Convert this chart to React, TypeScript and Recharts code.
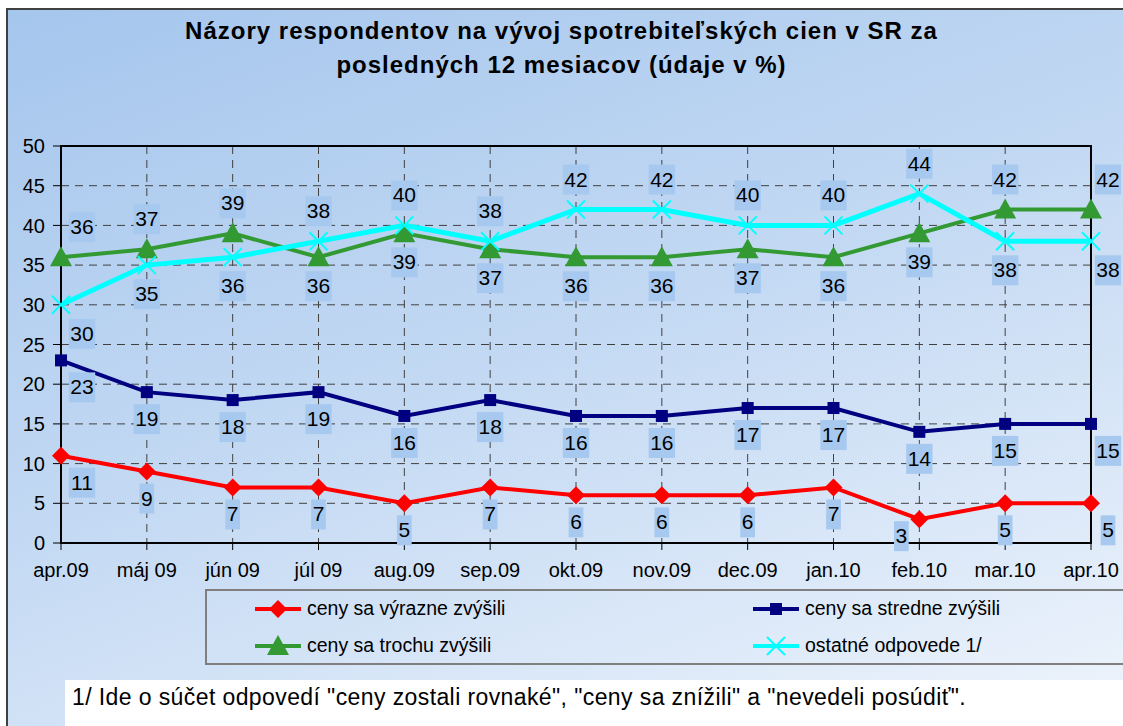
import { LineChart, Line, XAxis, YAxis, CartesianGrid, ReferenceArea } from 'recharts'

const months = [
  'apr.09', 'máj 09', 'jún 09', 'júl 09', 'aug.09', 'sep.09', 'okt.09',
  'nov.09', 'dec.09', 'jan.10', 'feb.10', 'mar.10', 'apr.10',
]

const vyrazne = [11, 9, 7, 7, 5, 7, 6, 6, 6, 7, 3, 5, 5]
const stredne = [23, 19, 18, 19, 16, 18, 16, 16, 17, 17, 14, 15, 15]
const trochu = [36, 37, 39, 36, 39, 37, 36, 36, 37, 36, 39, 42, 42]
const ostatne = [30, 35, 36, 38, 40, 38, 42, 42, 40, 40, 44, 38, 38]

const yTicks = [0, 5, 10, 15, 20, 25, 30, 35, 40, 45, 50]

const seriesNames = {
  vyrazne: 'ceny sa výrazne zvýšili',
  stredne: 'ceny sa stredne zvýšili',
  trochu: 'ceny sa trochu zvýšili',
  ostatne: 'ostatné odpovede 1/',
}

const COLORS = {
  vyrazne: '#ff0000',
  stredne: '#000080',
  trochu: '#339933',
  ostatne: '#00ffff',
}

const FONT = '"Liberation Sans", Arial, sans-serif'
const LABEL_BG = '#a8c9ef'

const data = months.map((m, i) => ({
  month: m,
  vyrazne: vyrazne[i],
  stredne: stredne[i],
  trochu: trochu[i],
  ostatne: ostatne[i],
}))

type Key = 'vyrazne' | 'stredne' | 'trochu' | 'ostatne'

function Marker({ kind, cx, cy }: { kind: Key; cx: number; cy: number }) {
  if (kind === 'vyrazne') {
    return <polygon points={`${cx},${cy - 9} ${cx + 9},${cy} ${cx},${cy + 9} ${cx - 9},${cy}`} fill={COLORS.vyrazne} />
  }
  if (kind === 'stredne') {
    return <rect x={cx - 6} y={cy - 6} width={12} height={12} fill={COLORS.stredne} />
  }
  if (kind === 'trochu') {
    return <polygon points={`${cx},${cy - 11} ${cx + 11},${cy + 9} ${cx - 11},${cy + 9}`} fill={COLORS.trochu} />
  }
  return (
    <g stroke={COLORS.ostatne} strokeWidth={2}>
      <line x1={cx - 9} y1={cy - 9} x2={cx + 9} y2={cy + 9} />
      <line x1={cx - 9} y1={cy + 9} x2={cx + 9} y2={cy - 9} />
    </g>
  )
}

function dotFor(kind: Key) {
  return (p: any) => {
    if (p.cx == null || p.cy == null) return <g key={p.index} />
    return <Marker key={p.index} kind={kind} cx={p.cx} cy={p.cy} />
  }
}

// where a value label goes, relative to its point
function placement(kind: Key, i: number, value: number) {
  let dx = 0
  let dy = 27
  if (kind === 'trochu') dy = trochu[i] > ostatne[i] ? -30 : 29
  if (kind === 'ostatne') dy = ostatne[i] > trochu[i] ? -30 : 29
  if (i === 0) dx = 21
  if (i === months.length - 1) dx = 17
  if (kind === 'vyrazne' && value < 4) {
    dx = -18
    dy = 17
  }
  return { dx, dy }
}

function labelFor(kind: Key) {
  return (p: any) => {
    if (p.cx == null || p.cy == null) return <g key={p.index} />
    const value = p.payload[kind]
    const { dx, dy } = placement(kind, p.index, value)
    const text = String(value)
    const w = text.length * 11.7 + 3
    const x = p.cx + dx
    const y = p.cy + dy
    return (
      <g key={p.index}>
        <rect x={x - w / 2} y={y - 15} width={w} height={30} fill={LABEL_BG} />
        <text x={x} y={y + 7} textAnchor="middle" fontSize={21} fontFamily={FONT} fill="#000">
          {text}
        </text>
      </g>
    )
  }
}

const keys: Key[] = ['vyrazne', 'stredne', 'trochu', 'ostatne']

function LegendIcon({ kind }: { kind: Key }) {
  return (
    <svg width={46} height={22} style={{ display: 'block' }}>
      <line x1={0} y1={11} x2={46} y2={11} stroke={COLORS[kind]} strokeWidth={4} />
      <Marker kind={kind} cx={23} cy={11} />
    </svg>
  )
}

function ChartLegend() {
  const items: { kind: Key; left: number; top: number }[] = [
    { kind: 'vyrazne', left: 48, top: 6 },
    { kind: 'stredne', left: 546, top: 6 },
    { kind: 'trochu', left: 48, top: 43 },
    { kind: 'ostatne', left: 546, top: 43 },
  ]
  return (
    <div
      style={{
        position: 'absolute',
        left: 205,
        top: 589,
        width: 1000,
        height: 76,
        border: '2px solid #7f7f7f',
        boxSizing: 'border-box',
      }}
    >
      {items.map(it => (
        <div
          key={it.kind}
          style={{ position: 'absolute', left: it.left, top: it.top, display: 'flex', alignItems: 'center', gap: 6 }}
        >
          <LegendIcon kind={it.kind} />
          <span style={{ fontFamily: FONT, fontSize: 19.5, color: '#000', whiteSpace: 'nowrap' }}>
            {seriesNames[it.kind]}
          </span>
        </div>
      ))}
    </div>
  )
}

export default function App() {
  return (
    <div style={{ position: 'absolute', left: 0, top: 0, width: 1123, height: 726, overflow: 'hidden', background: '#fff' }}>
      <div
        style={{
          position: 'absolute',
          left: 6,
          top: 8,
          width: 1160,
          height: 760,
          borderLeft: '2px solid #404040',
          borderTop: '2px solid #404040',
          background: 'linear-gradient(160deg, #a5c6ed 0%, #c3d9f3 45%, #f3f7fd 100%)',
        }}
      />
      <div
        style={{
          position: 'absolute',
          left: 0,
          top: 14,
          width: 1123,
          textAlign: 'center',
          fontFamily: FONT,
          fontWeight: 'bold',
          fontSize: 24,
          letterSpacing: 1,
          lineHeight: '34px',
          color: '#000',
        }}
      >
        Názory respondentov na vývoj spotrebiteľských cien v SR za
        <br />
        posledných 12 mesiacov (údaje v %)
      </div>
      <div style={{ position: 'absolute', left: 0, top: 0 }}>
        <LineChart width={1123} height={726} data={data} margin={{ top: 146, right: 32, bottom: 143, left: 0 }}>
          <CartesianGrid stroke="#404040" strokeDasharray="8 6" strokeWidth={1} />
          <ReferenceArea
            x1="apr.09"
            x2="apr.10"
            y1={0}
            y2={50}
            fill="none"
            stroke="#000"
            strokeWidth={2}
            ifOverflow="visible"
          />
          <XAxis
            dataKey="month"
            interval={0}
            tickSize={7}
            tickMargin={13}
            height={40}
            axisLine={{ stroke: '#000', strokeWidth: 2 }}
            tickLine={{ stroke: '#000' }}
            tick={{ fontSize: 20, fill: '#000', fontFamily: FONT }}
          />
          <YAxis
            domain={[0, 50]}
            ticks={yTicks}
            width={61}
            tickSize={8}
            tickMargin={8}
            axisLine={{ stroke: '#000', strokeWidth: 2 }}
            tickLine={{ stroke: '#000' }}
            tick={{ fontSize: 20, fill: '#000', fontFamily: FONT }}
          />
          {keys.map(k => (
            <Line
              key={k}
              dataKey={k}
              name={seriesNames[k]}
              type="linear"
              stroke={COLORS[k]}
              strokeWidth={k === 'ostatne' ? 5 : 4}
              dot={dotFor(k)}
              activeDot={false}
              isAnimationActive={false}
            />
          ))}
          {keys.map(k => (
            <Line
              key={'lbl-' + k}
              dataKey={k}
              type="linear"
              stroke="none"
              legendType="none"
              dot={labelFor(k)}
              activeDot={false}
              isAnimationActive={false}
            />
          ))}
        </LineChart>
      </div>
      <ChartLegend />
      <div
        style={{
          position: 'absolute',
          left: 65,
          top: 680,
          width: 1100,
          height: 60,
          background: '#fff',
          fontFamily: FONT,
          fontSize: 23,
          letterSpacing: 0.4,
          color: '#000',
          paddingLeft: 7,
          paddingTop: 4,
          boxSizing: 'border-box',
          whiteSpace: 'nowrap',
        }}
      >
        1/ Ide o súčet odpovedí "ceny zostali rovnaké", "ceny sa znížili" a "nevedeli posúdiť".
      </div>
    </div>
  )
}
